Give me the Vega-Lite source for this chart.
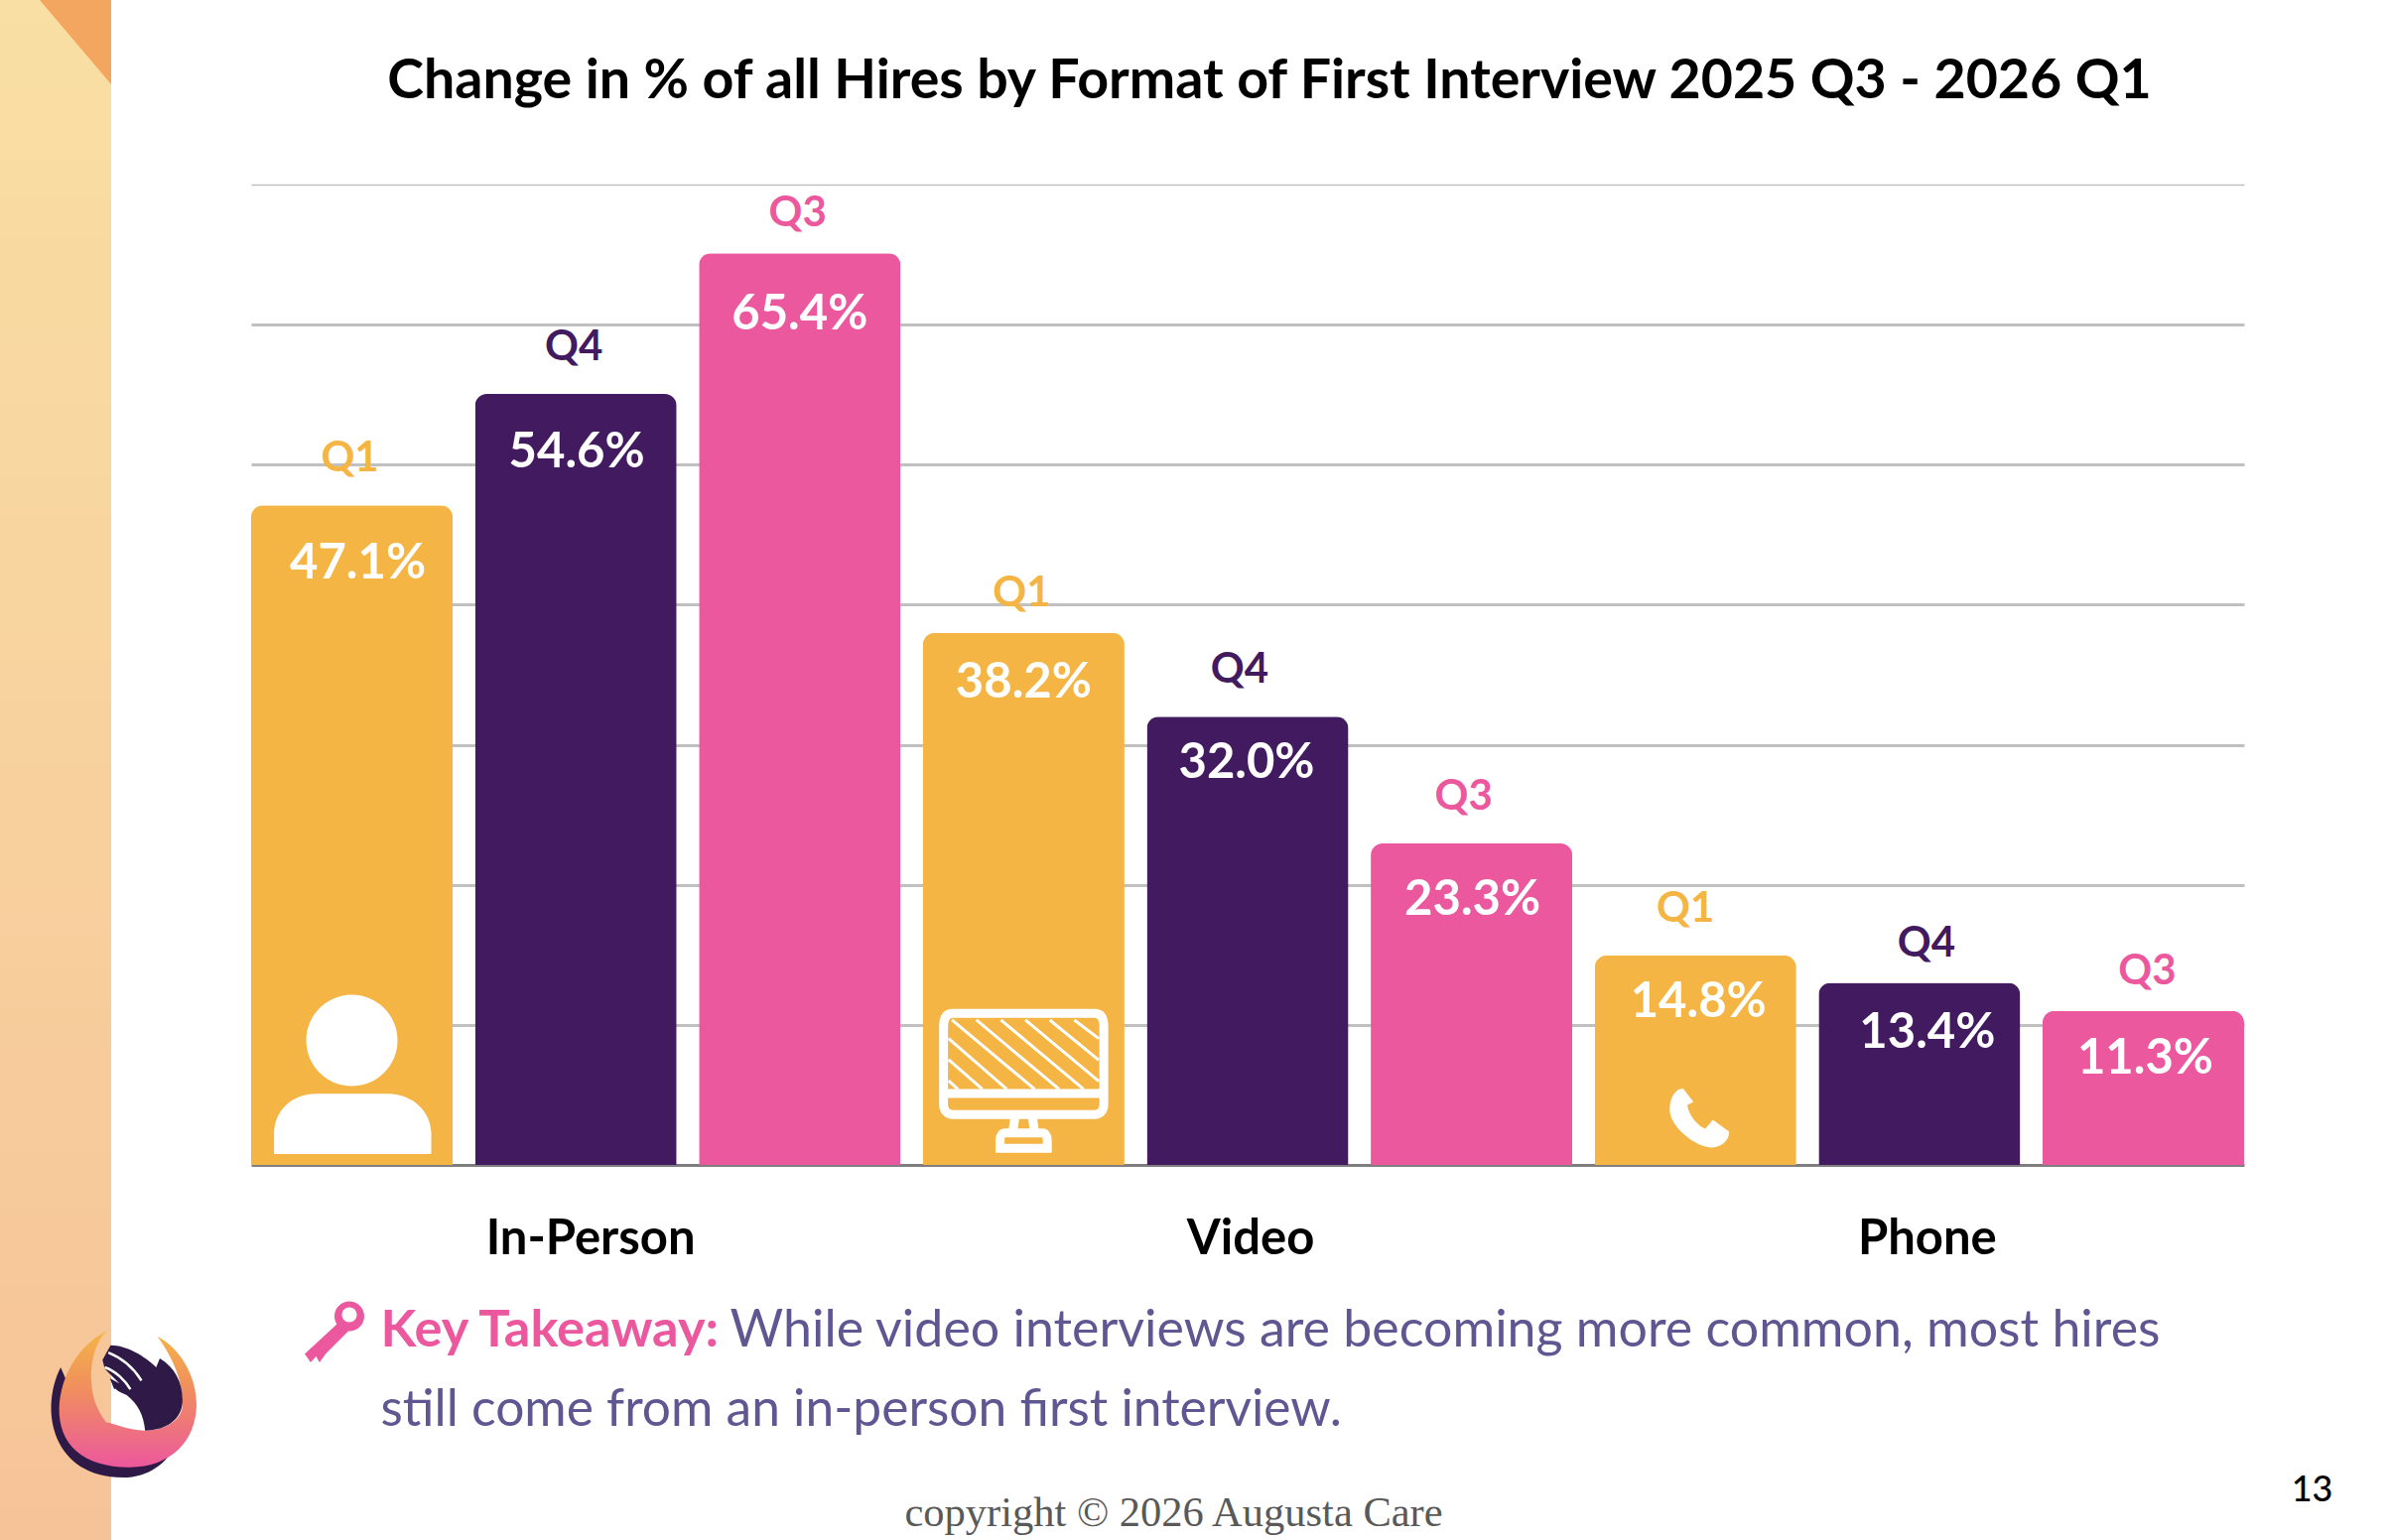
{
  "$schema": "https://vega.github.io/schema/vega-lite/v6.json",
  "width": 2008,
  "height": 988,
  "autosize": {"type": "none"},
  "padding": {"left": 253, "top": 186, "right": 147, "bottom": 378},
  "background": "white",
  "config": {"view": {"stroke": null}, "font": "Lato"},
  "title": {
    "text": "Change in % of all Hires by Format of First Interview 2025 Q3 - 2026 Q1",
    "anchor": "middle",
    "frame": "group",
    "dx": 22,
    "offset": -154,
    "baseline": "alphabetic",
    "font": "Lato",
    "fontSize": 55.5,
    "fontWeight": "bold",
    "color": "#000000"
  },
  "data": {
    "values": [
      {"format": "In-Person", "quarter": "Q1", "bar": "In-Person Q1", "share": 0.471, "drawn": 0.471},
      {"format": "In-Person", "quarter": "Q4", "bar": "In-Person Q4", "share": 0.546, "drawn": 0.5505},
      {"format": "In-Person", "quarter": "Q3", "bar": "In-Person Q3", "share": 0.654, "drawn": 0.651},
      {"format": "Video", "quarter": "Q1", "bar": "Video Q1", "share": 0.382, "drawn": 0.38},
      {"format": "Video", "quarter": "Q4", "bar": "Video Q4", "share": 0.32, "drawn": 0.32},
      {"format": "Video", "quarter": "Q3", "bar": "Video Q3", "share": 0.233, "drawn": 0.2295},
      {"format": "Phone", "quarter": "Q1", "bar": "Phone Q1", "share": 0.148, "drawn": 0.1495},
      {"format": "Phone", "quarter": "Q4", "bar": "Phone Q4", "share": 0.134, "drawn": 0.13},
      {"format": "Phone", "quarter": "Q3", "bar": "Phone Q3", "share": 0.113, "drawn": 0.11}
    ]
  },
  "encoding": {
    "x": {
      "field": "bar",
      "type": "nominal",
      "axis": null,
      "sort": null,
      "scale": {
        "domain": ["In-Person Q1", "In-Person Q4", "In-Person Q3", "Video Q1", "Video Q4", "Video Q3", "Phone Q1", "Phone Q4", "Phone Q3"],
        "paddingInner": 0.1,
        "paddingOuter": 0
      }
    },
    "y": {
      "field": "drawn",
      "type": "quantitative",
      "scale": {"domain": [0, 0.7], "nice": false},
      "axis": {
        "title": null,
        "labels": false,
        "ticks": false,
        "domain": false,
        "values": [0, 0.1, 0.2, 0.3, 0.4, 0.5, 0.6, 0.7],
        "gridColor": {"condition": {"test": "datum.value === 0", "value": "#7f7f7f"}, "value": "#c0c0c0"},
        "gridWidth": {"condition": {"test": "datum.value === 0.7", "value": 1.5}, "value": 3}
      }
    },
    "color": {
      "field": "quarter",
      "type": "nominal",
      "legend": null,
      "scale": {"domain": ["Q1", "Q4", "Q3"], "range": ["#F4B544", "#421A60", "#EC589D"]}
    }
  },
  "layer": [
    {
      "transform": [{"filter": "datum.bar === 'In-Person Q1'"}],
      "mark": {
        "type": "rect",
        "x": -253, "x2": -141, "y": -186, "y2": 1366,
        "fill": {
          "gradient": "linear", "x1": 0, "y1": 0, "x2": 0, "y2": 1,
          "stops": [{"offset": 0, "color": "#F9DFA3"}, {"offset": 1, "color": "#F6C398"}]
        }
      },
      "encoding": {"x": null, "y": null, "color": null}
    },
    {
      "transform": [{"filter": "datum.bar === 'In-Person Q1'"}],
      "mark": {"type": "point", "x": -177, "y": -143.5, "size": 5184, "filled": true, "opacity": 1, "fill": "#F3A65F", "strokeWidth": 0, "shape": "M-1,-1.18 L1,-1.18 L1,1.18 Z"},
      "encoding": {"x": null, "y": null, "color": null}
    },
    {
      "mark": {"type": "bar", "cornerRadiusTopLeft": 12, "cornerRadiusTopRight": 12}
    },
    {
      "mark": {
        "type": "text", "fontSize": 42, "fontWeight": "bold", "baseline": "alphabetic",
        "dy": {"expr": "indexof(['In-Person Q3', 'Video Q1', 'Phone Q4', 'Phone Q3'], datum.bar) >= 0 ? -27 : -34"},
        "dx": {"expr": "({'Video Q4': -8, 'Video Q3': -8, 'Phone Q1': -10, 'Phone Q4': 7, 'Phone Q3': 4})[datum.bar] || -2"}
      },
      "encoding": {"text": {"field": "quarter"}}
    },
    {
      "mark": {
        "type": "text", "fontSize": 49, "fontWeight": "bold", "baseline": "alphabetic",
        "dy": {"expr": "({'In-Person Q1': 74, 'In-Person Q4': 74, 'In-Person Q3': 77, 'Video Q1': 65, 'Video Q4': 62, 'Video Q3': 72, 'Phone Q1': 62, 'Phone Q4': 65, 'Phone Q3': 63})[datum.bar]"},
        "dx": {"expr": "({'In-Person Q1': 6, 'In-Person Q4': 1, 'Video Q4': -1, 'Video Q3': 1, 'Phone Q1': 3, 'Phone Q4': 8, 'Phone Q3': 2})[datum.bar] || 0"}
      },
      "encoding": {"text": {"field": "share", "format": ".1%"}, "color": {"value": "white"}}
    },
    {
      "transform": [{"filter": "datum.quarter === 'Q4'"}],
      "mark": {
        "type": "text", "fontSize": 49, "fontWeight": "bold", "baseline": "alphabetic", "dy": 90,
        "dx": {"expr": "datum.format === 'In-Person' ? 15 : datum.format === 'Video' ? 3 : 8"}
      },
      "encoding": {
        "y": {"datum": 0},
        "color": {"value": "#000000"},
        "text": {"field": "format"}
      }
    },
    {
      "transform": [{"filter": "datum.bar === 'In-Person Q1'"}],
      "mark": {"type": "text", "text": "Key Takeaway:", "fontSize": 52.4, "fontWeight": "bold", "align": "left", "baseline": "alphabetic", "dx": 29, "dy": 183},
      "encoding": {"y": {"datum": 0}, "color": {"value": "#EC589D"}}
    },
    {
      "transform": [{"filter": "datum.bar === 'In-Person Q1'"}],
      "mark": {"type": "text", "text": "While video interviews are becoming more common, most hires", "fontSize": 51.9, "align": "left", "baseline": "alphabetic", "dx": 381, "dy": 183},
      "encoding": {"y": {"datum": 0}, "color": {"value": "#5F5792"}}
    },
    {
      "transform": [{"filter": "datum.bar === 'In-Person Q1'"}],
      "mark": {"type": "text", "text": "still come from an in-person first interview.", "fontSize": 51.5, "align": "left", "baseline": "alphabetic", "dx": 29, "dy": 263},
      "encoding": {"y": {"datum": 0}, "color": {"value": "#5F5792"}}
    },
    {
      "transform": [{"filter": "datum.bar === 'In-Person Q1'"}],
      "mark": {"type": "text", "text": "copyright © 2026 Augusta Care", "font": "Liberation Serif", "fontSize": 42.5, "align": "center", "baseline": "alphabetic", "dx": 828, "dy": 364},
      "encoding": {"y": {"datum": 0}, "color": {"value": "#595959"}}
    },
    {
      "transform": [{"filter": "datum.bar === 'In-Person Q1'"}],
      "mark": {"type": "text", "text": "13", "fontSize": 36, "fontWeight": 500, "align": "center", "baseline": "alphabetic", "dx": 1975, "dy": 339},
      "encoding": {"y": {"datum": 0}, "color": {"value": "#000000"}}
    },
    {
      "transform": [{"filter": "datum.bar === 'In-Person Q1'"}],
      "mark": {"type": "point", "size": 25600, "filled": true, "opacity": 1, "fill": "white", "strokeWidth": 0, "shape": "M-.575,-.43 C-.575,-.748 -.318,-1.005 0,-1.005 C.318,-1.005 .575,-.748 .575,-.43 C.575,-.112 .318,.145 0,.145 C-.318,.145 -.575,-.112 -.575,-.43 Z M-.98,1 L-.98,.75 C-.98,.45 -.75,.24 -.45,.24 L.45,.24 C.75,.24 1,.45 1,.75 L1,1 Z"},
      "encoding": {"y": {"datum": 0.0645}, "color": null}
    },
    {
      "transform": [{"filter": "datum.bar === 'Video Q1'"}],
      "mark": {"type": "point", "size": 28900, "filled": false, "opacity": 1, "fill": "transparent", "stroke": "white", "strokeWidth": 9, "shape": "M-.84,-.8 L.84,-.8 C.94,-.8 .95,-.7 .95,-.64 L.95,.28 C.95,.36 .9,.4 .84,.4 L-.84,.4 C-.9,.4 -.95,.36 -.95,.28 L-.95,-.64 C-.95,-.7 -.94,-.8 -.84,-.8 Z M-.95,.15 L.95,.15 M-.1,.4 L-.13,.62 M.1,.4 L.13,.62 M-.22,.62 L.22,.62 C.26,.62 .28,.66 .28,.7 L.28,.8 L-.28,.8 L-.28,.7 C-.28,.66 -.26,.62 -.22,.62 Z"},
      "encoding": {"y": {"datum": 0.0601}, "color": null}
    },
    {
      "transform": [{"filter": "datum.bar === 'Video Q1'"}],
      "mark": {"type": "point", "size": 28900, "filled": false, "opacity": 1, "fill": "transparent", "stroke": "white", "strokeWidth": 3, "shape": "M-.85,-.72 L.13,.1 M-.56,-.72 L.42,.1 M-.27,-.72 L.71,.1 M.02,-.72 L.89,.006 M.31,-.72 L.89,-.245 M.6,-.72 L.89,-.5 M-.89,-.5 L-.2,.1 M-.89,-.25 L-.49,.1 M-.89,0 L-.78,.1"},
      "encoding": {"y": {"datum": 0.0601}, "color": null}
    },
    {
      "transform": [{"filter": "datum.bar === 'Phone Q1'"}],
      "mark": {"type": "point", "size": 3600, "filled": true, "opacity": 1, "fill": "white", "strokeWidth": 0, "xOffset": 4, "shape": "M-.55,-1 C-.8,-1 -1,-.7 -1,-.3 C-1,.3 -.1,1 .45,.98 C.8,.95 1,.7 1,.45 L.45,.05 L.2,.35 C-.1,.25 -.4,-.2 -.4,-.45 L-.2,-.55 Z"},
      "encoding": {"y": {"datum": 0.0333}, "color": null}
    },
    {
      "transform": [{"filter": "datum.bar === 'In-Person Q1'"}],
      "mark": {"type": "point", "x": 84, "y": 1157, "size": 3600, "filled": true, "opacity": 1, "fill": "#EC589D", "strokeWidth": 0, "shape": "M0,-.55 C0,-.826 .224,-1.05 .5,-1.05 C.776,-1.05 1,-.826 1,-.55 C1,-.274 .776,-.05 .5,-.05 C.224,-.05 0,-.274 0,-.55 Z M.25,-.6 C.25,-.46 .36,-.35 .5,-.35 C.64,-.35 .75,-.46 .75,-.6 C.75,-.74 .64,-.85 .5,-.85 C.36,-.85 .25,-.74 .25,-.6 Z M.08,-.28 L.5,-.08 L-.3,.72 L-.5,1 L-.62,.8 L-.8,1 L-1,.72 Z"},
      "encoding": {"x": null, "y": null, "color": null}
    },
    {
      "transform": [{"filter": "datum.bar === 'In-Person Q1'"}],
      "mark": {"type": "point", "x": -129, "y": 1229, "size": 21904, "filled": true, "opacity": 1, "fill": "#2F1A47", "strokeWidth": 0, "shape": "M-.85,-.5 C-1.15,.1 -.95,1 0,1 C.35,1 .6,.8 .72,.55 L.1,.7 L-.5,.3 Z"},
      "encoding": {"x": null, "y": null, "color": null}
    },
    {
      "transform": [{"filter": "datum.bar === 'In-Person Q1'"}],
      "mark": {
        "type": "point", "x": -129, "y": 1229, "size": 21904, "filled": true, "opacity": 1, "strokeWidth": 0,
        "fill": {
          "gradient": "linear", "x1": 0, "y1": 0, "x2": 0, "y2": 1,
          "stops": [{"offset": 0, "color": "#F4B544"}, {"offset": 0.45, "color": "#F08C60"}, {"offset": 1, "color": "#EC589D"}]
        },
        "shape": "M-.22,-1 C-.6,-.8 -.85,-.4 -.87,.05 C-.88,.55 -.55,.86 .09,.86 C.65,.86 1,.5 1,0 C1,-.35 .8,-.75 .47,-.92 C.7,-.6 .81,-.3 .81,0 C.81,.2 .6,.36 .3,.36 C.05,.36 -.15,.25 -.23,.25 C-.38,.05 -.43,-.15 -.43,-.3 C-.45,-.55 -.38,-.85 -.22,-1 Z"
      },
      "encoding": {"x": null, "y": null, "color": null}
    },
    {
      "transform": [{"filter": "datum.bar === 'In-Person Q1'"}],
      "mark": {"type": "point", "x": -129, "y": 1229, "size": 21904, "filled": true, "opacity": 1, "fill": "#2F1A47", "strokeWidth": 0, "shape": "M-.17,-.8 C.05,-.8 .3,-.65 .45,-.5 L.5,-.62 C.7,-.5 .81,-.3 .81,-.05 C.81,.2 .6,.36 .3,.36 C.28,.15 .2,0 .05,-.12 L-.12,-.2 L-.18,-.35 L-.05,-.28 L-.25,-.48 L-.28,-.6 Z"},
      "encoding": {"x": null, "y": null, "color": null}
    },
    {
      "transform": [{"filter": "datum.bar === 'In-Person Q1'"}],
      "mark": {"type": "point", "x": -129, "y": 1229, "size": 21904, "filled": false, "opacity": 1, "fill": "transparent", "stroke": "white", "strokeWidth": 2.5, "shape": "M-.2,-.7 C0,-.62 .15,-.48 .25,-.32 M-.25,-.5 C-.1,-.45 .03,-.32 .1,-.2 M-.12,-.2 L.02,-.08"},
      "encoding": {"x": null, "y": null, "color": null}
    }
  ]
}
